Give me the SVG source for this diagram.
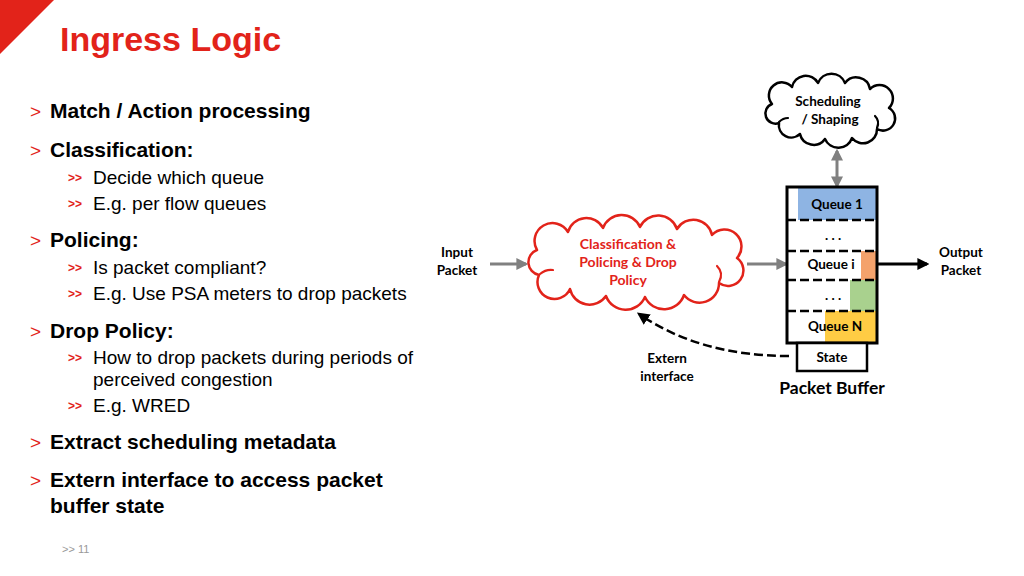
<svg xmlns="http://www.w3.org/2000/svg" width="1024" height="576" viewBox="0 0 1024 576">
<style>
.t{font-family:"Liberation Sans",Arial,sans-serif;fill:#000}
.h{font-size:21px;font-weight:bold}
.s{font-size:19px}
.b1{font-family:"Liberation Sans",Arial,sans-serif;fill:#e2231a;font-size:19px}
.b2{font-family:"Liberation Sans",Arial,sans-serif;fill:#e2231a;font-size:12px;font-weight:bold}
.d{font-family:Lato,"Open Sans",sans-serif;font-weight:bold;font-size:13.5px;fill:#000;text-anchor:middle}
.q{font-size:13.5px}
.r{fill:#e2231a;font-size:14px}
.cloud{fill:#fff;stroke-width:2.5;stroke-linejoin:round}
.hook{fill:none;stroke-width:2.2;stroke-linecap:round}
.dash{stroke:#000;stroke-width:2.5;stroke-dasharray:9 4;fill:none}
.gray{stroke:#808080;stroke-width:3;fill:none}
</style>
<defs>
<marker id="ag" viewBox="0 0 10 10" refX="8" refY="5" markerWidth="4" markerHeight="4" orient="auto-start-reverse"><path d="M0,0 L10,5 L0,10 z" fill="#808080"/></marker>
<marker id="ak" viewBox="0 0 10 10" refX="8" refY="5" markerWidth="4" markerHeight="4" orient="auto"><path d="M0,0 L10,5 L0,10 z" fill="#000"/></marker>
<marker id="ak2" viewBox="0 0 10 10" refX="8" refY="5" markerWidth="5" markerHeight="5" orient="auto"><path d="M0,0 L10,5 L0,10 z" fill="#000"/></marker>
</defs>
<rect width="1024" height="576" fill="#fff"/>
<polygon points="0,0 54,0 0,54" fill="#e2231a"/>
<text x="60" y="51" font-family="Liberation Sans,Arial,sans-serif" font-size="34" font-weight="bold" fill="#e2231a">Ingress Logic</text>

<g id="bullets">
<text class="b1" x="30" y="118">&gt;</text><text class="t h" x="50" y="118">Match / Action processing</text>
<text class="b1" x="30" y="157">&gt;</text><text class="t h" x="50" y="157">Classification:</text>
<text class="b2" x="68" y="182">&gt;&gt;</text><text class="t s" x="93" y="184">Decide which queue</text>
<text class="b2" x="68" y="208">&gt;&gt;</text><text class="t s" x="93" y="210">E.g. per flow queues</text>
<text class="b1" x="30" y="247">&gt;</text><text class="t h" x="50" y="247">Policing:</text>
<text class="b2" x="68" y="272">&gt;&gt;</text><text class="t s" x="93" y="274">Is packet compliant?</text>
<text class="b2" x="68" y="298">&gt;&gt;</text><text class="t s" x="93" y="300">E.g. Use PSA meters to drop packets</text>
<text class="b1" x="30" y="338">&gt;</text><text class="t h" x="50" y="338">Drop Policy:</text>
<text class="b2" x="68" y="362">&gt;&gt;</text><text class="t s" x="93" y="364">How to drop packets during periods of</text>
<text class="t s" x="93" y="386">perceived congestion</text>
<text class="b2" x="68" y="410">&gt;&gt;</text><text class="t s" x="93" y="412">E.g. WRED</text>
<text class="b1" x="30" y="449">&gt;</text><text class="t h" x="50" y="449">Extract scheduling metadata</text>
<text class="b1" x="30" y="487">&gt;</text><text class="t h" x="50" y="487">Extern interface to access packet</text>
<text class="t h" x="50" y="513">buffer state</text>
<text x="62" y="553" font-family="Liberation Sans,Arial,sans-serif" font-size="11" fill="#999">&gt;&gt; 11</text>
</g>

<g id="connectors">
<line class="gray" x1="490" y1="264" x2="526" y2="264" marker-end="url(#ag)"/>
<line class="gray" x1="747" y1="264" x2="786" y2="264" marker-end="url(#ag)"/>
<line x1="878" y1="264" x2="927" y2="264" stroke="#000" stroke-width="3" marker-end="url(#ak)"/>
<line class="gray" x1="837" y1="151" x2="837" y2="186" marker-start="url(#ag)" marker-end="url(#ag)"/>
<path class="dash" d="M789,356 Q700,356 639,314" marker-end="url(#ak2)"/>
</g>

<g id="scheduling">
<path class="cloud" stroke="#000" d="M772,104 A12,12 0 0 1 792,87 A14,14 0 0 1 818,83 A14.5,14.5 0 0 1 845,83 A14,14 0 0 1 870,89 A13,13 0 0 1 889,108 A12,12 0 0 1 877,129 A14,14 0 0 1 852,138 A14.5,14.5 0 0 1 825,139 A14,14 0 0 1 800,134 A12.5,12.5 0 0 1 779,123 A10,10 0 0 1 772,104 Z"/>
<path class="hook" stroke="#000" d="M779,122 Q783,118 788,118 M877,128 Q880,121 875,116"/>
<text class="d" x="828" y="106">Scheduling</text>
<text class="d" x="830" y="124">/ Shaping</text>
</g>

<g id="classification">
<path class="cloud" stroke="#e2231a" d="M537,250 A16,16 0 0 1 568,232 A19,19 0 0 1 603,228 A20,20 0 0 1 640,227 A20,20 0 0 1 677,229 A19,19 0 0 1 712,235 A16,16 0 0 1 737,258 A15,15 0 0 1 719,283 A19.5,19.5 0 0 1 684,295 A21,21 0 0 1 645,297 A21,21 0 0 1 606,296 A20,20 0 0 1 570,289 A16,16 0 0 1 539,275 A13,13 0 0 1 537,250 Z"/>
<path class="hook" stroke="#e2231a" d="M540,274 Q546,269 553,270 M719,282 Q724,273 717,266"/>
<text class="d r" x="628" y="249">Classification &amp;</text>
<text class="d r" x="628" y="267">Policing &amp; Drop</text>
<text class="d r" x="628" y="285">Policy</text>
</g>

<g id="labels">
<text class="d" x="457" y="257">Input</text>
<text class="d" x="457" y="275">Packet</text>
<text class="d" x="961" y="257">Output</text>
<text class="d" x="961" y="275">Packet</text>
<text class="d" x="667" y="363">Extern</text>
<text class="d" x="667" y="381">interface</text>
</g>

<g id="packet-buffer">
<rect x="798" y="187" width="79" height="33" fill="#8eb4e3"/>
<rect x="861" y="251" width="16" height="29" fill="#f4a26c"/>
<rect x="850" y="280" width="27" height="31" fill="#a9d18e"/>
<rect x="825" y="311" width="52" height="32" fill="#ffcc44"/>
<line class="dash" x1="787" y1="220" x2="877" y2="220"/>
<line class="dash" x1="787" y1="251" x2="877" y2="251"/>
<line class="dash" x1="787" y1="280" x2="877" y2="280"/>
<line class="dash" x1="787" y1="311" x2="877" y2="311"/>
<rect x="787" y="187" width="90" height="156" fill="none" stroke="#000" stroke-width="3"/>
<text class="d q" x="837" y="209">Queue 1</text>
<text class="d q" x="833" y="240">. . .</text>
<text class="d q" x="831" y="269">Queue i</text>
<text class="d q" x="833" y="300">. . .</text>
<text class="d q" x="835" y="331">Queue N</text>
</g>
<g id="state">
<rect x="797" y="343" width="70" height="28" fill="#fff" stroke="#000" stroke-width="2.5"/>
<text class="d q" x="832" y="362">State</text>
</g>
<text class="d" x="832" y="394" style="font-size:17.5px">Packet Buffer</text>
</svg>
